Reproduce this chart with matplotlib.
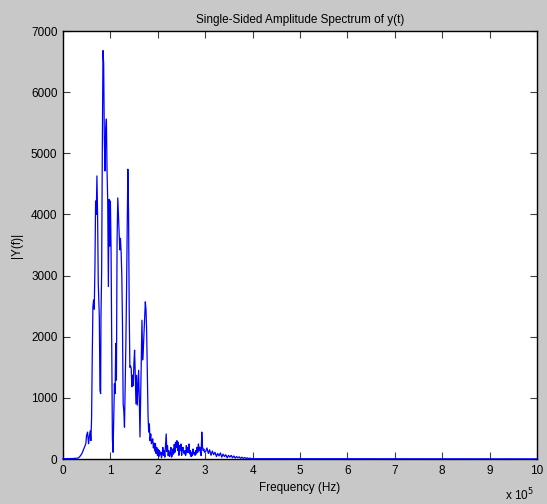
import matplotlib.pyplot as plt

# frequencies in kHz and amplitudes
freq_khz = [0, 20.0, 31.9, 35.5, 40.0, 42.5, 45.5, 48.2, 49.6, 51.8, 53.9, 55.3, 57.4, 58.8,
            60.3, 61.7, 63.1, 64.5, 65.9, 67.4, 68.8, 70.2, 71.6, 73.0, 74.4, 76.6, 78.0,
            79.4, 80.1, 81.5, 83.0, 84.4, 85.8, 87.2, 88.6, 90.0, 91.5, 92.9, 94.3, 95.7,
            97.1, 98.6, 100.0, 101.4, 102.8, 104.2, 105.6, 107.1, 108.5, 109.9, 111.3,
            112.7, 114.1, 115.6, 117.0, 118.4, 119.8, 121.2, 122.7, 124.1, 125.5, 126.9,
            128.3, 129.7, 131.2, 132.6, 134.0, 135.4, 136.8, 138.3, 139.7, 141.1, 142.5,
            143.9, 145.3, 146.8, 148.2, 149.6, 151.0, 152.4, 153.9, 155.3, 156.7, 158.1,
            159.5, 160.9, 162.4, 163.8, 165.2, 166.6, 168.0, 169.5, 170.9, 172.3, 173.7,
            175.1, 176.5, 178.0, 179.4, 180.8, 182.2, 183.6, 185.1, 186.5, 187.9, 189.3,
            190.7, 192.2, 193.6, 195.0, 196.4, 197.8, 199.3, 200.7, 202.1, 203.5, 204.9,
            206.3, 207.8, 209.2, 210.6, 212.0, 213.4, 214.8, 216.3, 217.7, 219.1, 220.5,
            221.9, 223.4, 224.8, 226.2, 227.6, 229.0, 230.4, 231.9, 233.3, 234.7, 236.1,
            237.5, 239.0, 240.4, 241.8, 243.2, 244.6, 246.0, 247.5, 248.9, 250.3, 251.7,
            253.1, 254.6, 256.0, 257.4, 258.8, 260.2, 261.6, 263.1, 264.5, 265.9, 267.3,
            268.7, 270.2, 271.6, 273.0, 274.4, 275.8, 277.2, 278.7, 280.1, 281.5, 282.9,
            284.3, 285.7, 287.2, 288.6, 290.0, 291.4, 292.8, 294.3, 295.7, 297.1, 298.5,
            300.9, 303.7, 306.6, 309.4, 312.2, 315.1, 317.9, 320.7, 323.6, 326.4, 329.2,
            332.1, 334.9, 337.7, 340.6, 343.4, 346.3, 349.1, 351.9, 354.8, 357.6, 360.4,
            363.3, 366.1, 368.9, 371.8, 374.6, 377.4, 380.3, 383.1, 386.0, 388.8, 391.6,
            394.5, 397.3, 400.0, 1000.0]

amplitude = [5, 8, 15, 40, 90, 140, 200, 250, 380, 440, 250, 350, 460, 300,
             660, 1670, 2490, 2600, 2450, 3150, 4220, 4000, 4630, 3970, 2875, 2330, 1120,
             1070, 2330, 3040, 5120, 6680, 6460, 5230, 4710, 5370, 5560, 4710, 4245, 2820,
             4245, 3480, 4220, 3420, 1750, 330, 110, 660, 1230, 1070, 1890,
             1290, 3590, 4270, 3970, 3640, 3420, 3610, 3370, 2990, 2190, 900,
             790, 520, 1180, 1860, 2710, 3810, 4740, 4025, 2410, 1500, 1520,
             1480, 1180, 1370, 1200, 1560, 1780, 1400, 900, 1370, 880, 1180,
             1450, 1010, 360, 1010, 1730, 2270, 1620, 1810, 2050, 2270, 2570,
             2440, 2080, 1420, 710, 440, 575, 300, 410, 250, 300, 330,
             180, 260, 130, 250, 90, 190, 60, 160, 40, 137, 70,
             110, 20, 82, 190, 60, 137, 30, 219, 410, 120, 219,
             55, 137, 40, 82, 190, 30, 55, 164, 80, 240, 110,
             274, 190, 300, 137, 274, 60, 219, 137, 246, 60, 164,
             192, 110, 82, 137, 60, 219, 100, 190, 110, 246, 82,
             137, 40, 110, 55, 164, 82, 110, 60, 137, 82, 192,
             110, 246, 137, 192, 110, 55, 440, 192, 137, 164, 110,
             120, 180, 90, 150, 60, 130, 70, 110, 40, 90, 50,
             100, 30, 80, 40, 70, 20, 60, 30, 60, 20, 50,
             15, 40, 20, 35, 10, 30, 10, 25, 8, 20, 5,
             15, 5, 5, 2]

y_ticks = [0, 1000, 2000, 3000, 4000, 5000, 6000, 7000]
x_ticks = [0, 1, 2, 3, 4, 5, 6, 7, 8, 9, 10]

plt.rcParams['font.family'] = ['Liberation Sans', 'DejaVu Sans']

fig = plt.figure(figsize=(5.47, 5.04), dpi=100, facecolor='#c8c8c8')
ax = fig.add_axes([63 / 547, 45 / 504, 474 / 547, 428 / 504])

freq_hz = [f * 1000 for f in freq_khz]
ax.plot(freq_hz, amplitude, color='#0000ff', linewidth=0.9, clip_on=False, zorder=5)

ax.set_xlim(0, 1e6)
ax.set_ylim(0, 7000)
ax.set_xticks([t * 1e5 for t in x_ticks])
ax.set_xticklabels([str(t) for t in x_ticks])
ax.set_yticks(y_ticks)
ax.set_yticklabels([str(t) for t in y_ticks])
ax.tick_params(direction='in', top=True, right=True, length=5, width=0.8,
               labelsize=8.5, color='#404040', pad=4)
for s in ax.spines.values():
    s.set_linewidth(1.0)

ax.set_title('Single-Sided Amplitude Spectrum of y(t)', fontsize=8.5, pad=6)
ax.set_xlabel('Frequency (Hz)', fontsize=8.5, labelpad=4)
ax.set_ylabel('|Y(f)|', fontsize=8.5, labelpad=6)
fig.text(505 / 547, 1 - 495 / 504, r'x 10$^5$', fontsize=8.5, va='center')

fig.savefig('out.png', dpi=100, facecolor=fig.get_facecolor())
